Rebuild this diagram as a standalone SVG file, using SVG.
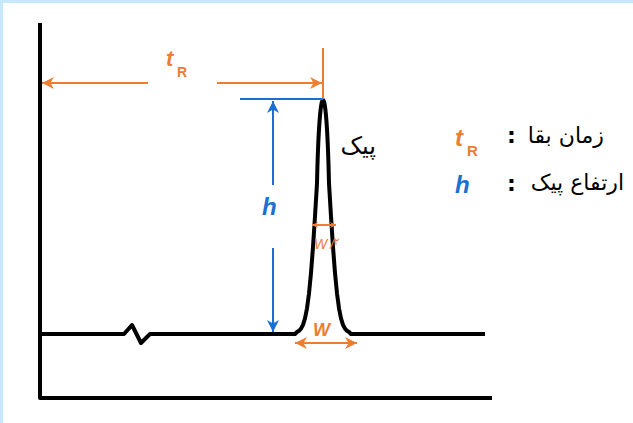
<svg xmlns="http://www.w3.org/2000/svg" width="633" height="423" viewBox="0 0 633 423">
<defs>
<style>
.ax{fill:none;stroke:#000;stroke-width:4;stroke-linejoin:round;stroke-linecap:butt}
.or{stroke:#ED7D31;stroke-width:2;fill:none}
.bl{stroke:#1A6FD0;stroke-width:2;fill:none}
.lab{font-family:"Liberation Sans",Arial,sans-serif;font-weight:bold;font-style:italic}
.sub{font-family:"Liberation Sans",Arial,sans-serif;font-weight:bold;font-style:normal}
.fa{font-family:"DejaVu Sans",sans-serif;fill:#000}
</style>
<marker id="aos" viewBox="0 0 10 10" refX="10" refY="5" markerWidth="6" markerHeight="6" orient="auto-start-reverse" markerUnits="userSpaceOnUse">
<path d="M0,0 L10,5 L0,10 L3,5 Z" fill="#ED7D31"/>
</marker>
<marker id="ab" viewBox="0 0 10 10" refX="10" refY="5" markerWidth="12" markerHeight="12" orient="auto-start-reverse" markerUnits="userSpaceOnUse">
<path d="M0,0 L10,5 L0,10 L3,5 Z" fill="#1A6FD0"/>
</marker>
<marker id="ao2" viewBox="0 0 10 10" refX="10" refY="5" markerWidth="12" markerHeight="12" orient="auto-start-reverse" markerUnits="userSpaceOnUse">
<path d="M0,0 L10,5 L0,10 L3,5 Z" fill="#ED7D31"/>
</marker>
</defs>
<rect x="0" y="0" width="633" height="423" fill="#fff"/>
<rect x="0" y="0" width="633" height="3" fill="#C5E9F9"/>
<rect x="0" y="0" width="3" height="423" fill="#C5E9F9"/>

<g id="axes">
<path class="ax" d="M40,23 L40,398 L492,398"/>
</g>

<g id="peak">
<path class="ax" d="M40,334 L124,334 L132,325 L141,343 L150,334 L295,334 L297,332 L299,330.8 L301,328.7 L303,324.8 L305,318.4 L307,308.3 L309,293.4 L311,273 L313,247 L315,216.4 L317,183.4 C319.5,72 326.5,72 329,183.4 L331,216.4 L333,247 L335,273 L337,293.4 L339,308.3 L341,318.4 L343,324.8 L345,328.7 L347,330.8 L349,332 L351,334 L485,334"/>
<text class="fa" x="376" y="154" font-size="24" text-anchor="end">پیک</text>
</g>

<g id="connectors">
<line class="or" x1="42" y1="83" x2="148" y2="83" marker-start="url(#ao2)"/>
<line class="or" x1="217" y1="83" x2="322" y2="83" marker-end="url(#ao2)"/>
<line class="or" x1="323" y1="48" x2="323" y2="99"/>
<line class="bl" x1="240" y1="99" x2="323" y2="99"/>
<line class="bl" x1="273" y1="101" x2="273" y2="185" marker-start="url(#ab)"/>
<line class="bl" x1="273" y1="248" x2="273" y2="332" marker-end="url(#ab)"/>
<line class="or" x1="312" y1="225" x2="336" y2="225" marker-start="url(#aos)" marker-end="url(#aos)"/>
<line class="or" x1="295" y1="343" x2="357" y2="343" marker-start="url(#ao2)" marker-end="url(#ao2)"/>
</g>

<g id="labels">
<text class="lab" x="166" y="66" font-size="22" fill="#ED7D31">t</text>
<text class="sub" x="177" y="77" font-size="14" fill="#ED7D31">R</text>
<text class="lab" x="262" y="215" font-size="24" fill="#1A6FD0">h</text>
<text class="lab" x="314" y="249" font-size="14" fill="#ED7D31" style="font-weight:normal">W<tspan dx="3">/</tspan><tspan font-size="10" dy="-4" style="font-family:'DejaVu Sans';font-style:normal">۲</tspan></text>
<text class="lab" x="313" y="336" font-size="18" fill="#ED7D31">W</text>
</g>

<g id="legend">
<text class="lab" x="455" y="146" font-size="24" fill="#ED7D31">t</text>
<text class="sub" x="467" y="156" font-size="15" fill="#ED7D31">R</text>
<text class="fa" x="507" y="143" font-size="22" font-weight="bold">:</text>
<text class="fa" x="604" y="143" font-size="22" text-anchor="end">زمان بقا</text>
<text class="lab" x="455" y="193" font-size="24" fill="#1A6FD0">h</text>
<text class="fa" x="507" y="191" font-size="22" font-weight="bold">:</text>
<text class="fa" x="624" y="190" font-size="22" text-anchor="end">ارتفاع پیک</text>
</g>
</svg>
